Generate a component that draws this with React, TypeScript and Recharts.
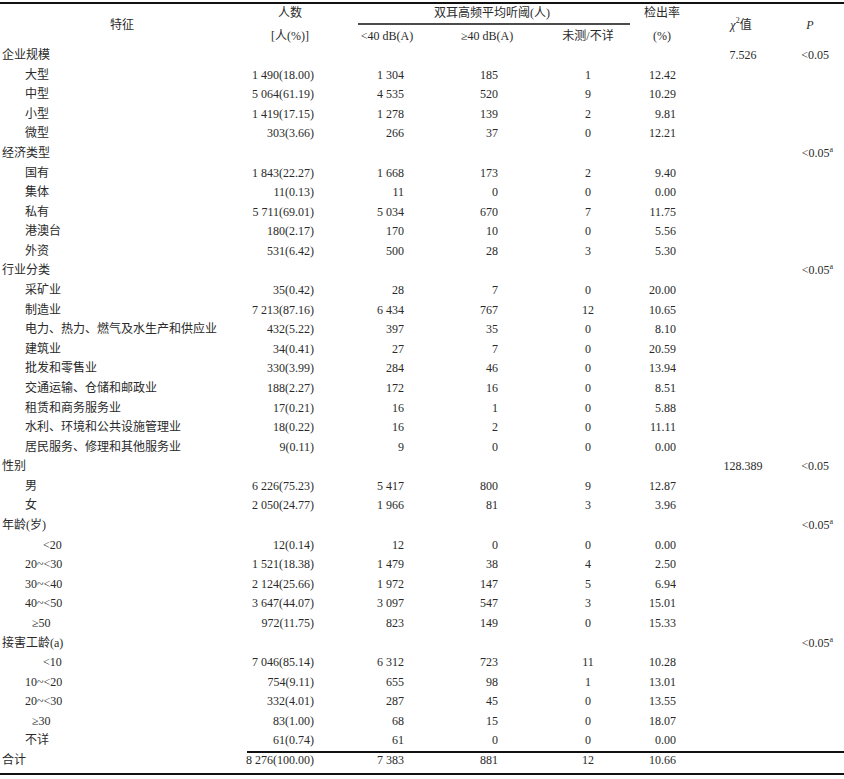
import React from 'react';
import { ComposedChart, Scatter, XAxis, YAxis, Customized } from 'recharts';

// row labels (特征)
const rowLabels = [
  '企业规模', '大型', '中型', '小型', '微型',
  '经济类型', '国有', '集体', '私有', '港澳台', '外资',
  '行业分类', '采矿业', '制造业', '电力、热力、燃气及水生产和供应业', '建筑业', '批发和零售业',
  '交通运输、仓储和邮政业', '租赁和商务服务业', '水利、环境和公共设施管理业', '居民服务、修理和其他服务业',
  '性别', '男', '女',
  '年龄(岁)', '<20', '20~<30', '30~<40', '40~<50', '≥50',
  '接害工龄(a)', '<10', '10~<20', '20~<30', '≥30', '不详',
  '合计'
];

const groupRows = ['企业规模', '经济类型', '行业分类', '性别', '年龄(岁)', '接害工龄(a)'];

// 人数 [人(%)]
const totals = [
  '', '1 490(18.00)', '5 064(61.19)', '1 419(17.15)', '303(3.66)',
  '', '1 843(22.27)', '11(0.13)', '5 711(69.01)', '180(2.17)', '531(6.42)',
  '', '35(0.42)', '7 213(87.16)', '432(5.22)', '34(0.41)', '330(3.99)', '188(2.27)', '17(0.21)', '18(0.22)', '9(0.11)',
  '', '6 226(75.23)', '2 050(24.77)',
  '', '12(0.14)', '1 521(18.38)', '2 124(25.66)', '3 647(44.07)', '972(11.75)',
  '', '7 046(85.14)', '754(9.11)', '332(4.01)', '83(1.00)', '61(0.74)',
  '8 276(100.00)'
];

// <40 dB(A)
const below40 = [
  '', '1 304', '4 535', '1 278', '266',
  '', '1 668', '11', '5 034', '170', '500',
  '', '28', '6 434', '397', '27', '284', '172', '16', '16', '9',
  '', '5 417', '1 966',
  '', '12', '1 479', '1 972', '3 097', '823',
  '', '6 312', '655', '287', '68', '61',
  '7 383'
];

// ≥40 dB(A)
const above40 = [
  '', '185', '520', '139', '37',
  '', '173', '0', '670', '10', '28',
  '', '7', '767', '35', '7', '46', '16', '1', '2', '0',
  '', '800', '81',
  '', '0', '38', '147', '547', '149',
  '', '723', '98', '45', '15', '0',
  '881'
];

// 未测/不详
const untested = [
  '', '1', '9', '2', '0',
  '', '2', '0', '7', '0', '3',
  '', '0', '12', '0', '0', '0', '0', '0', '0', '0',
  '', '9', '3',
  '', '0', '4', '5', '3', '0',
  '', '11', '1', '0', '0', '0',
  '12'
];

// 检出率(%)
const rates = [
  '', '12.42', '10.29', '9.81', '12.21',
  '', '9.40', '0.00', '11.75', '5.56', '5.30',
  '', '20.00', '10.65', '8.10', '20.59', '13.94', '8.51', '5.88', '11.11', '0.00',
  '', '12.87', '3.96',
  '', '0.00', '2.50', '6.94', '15.01', '15.33',
  '', '10.28', '13.01', '13.55', '18.07', '0.00',
  '10.66'
];

// per group: χ² value, P value, fisher exact flag
const groupChi = ['7.526', '', '', '128.389', '', ''];
const groupP = ['<0.05', '<0.05', '<0.05', '<0.05', '<0.05', '<0.05'];
const groupFisher = [false, true, true, false, true, true];

const W = 844;
const H = 779;
const FONT = "'Liberation Serif', 'Noto Sans CJK SC', serif";
const INK = '#2a2a2a';

// column anchors in pixels
const COL = { label: 0, total: 314, below: 404, above: 498, untested: 588, rate: 676, chi: 743, p: 829 };

const toPoints = (x: number, texts: string[]) =>
  texts.map((text, i) => ({ x, y: i, text }));

const chiTexts = rowLabels.map((l) => {
  const g = groupRows.indexOf(l);
  return g >= 0 ? groupChi[g] : '';
});
const pTexts = rowLabels.map((l) => {
  const g = groupRows.indexOf(l);
  return g >= 0 ? groupP[g] : '';
});

const labelIndent = (label: string) => {
  if (groupRows.includes(label) || label === '合计') return 2;
  if (label.startsWith('<')) return 43;
  if (label.startsWith('≥')) return 32;
  return 25;
};

const textShape = (anchor: 'start' | 'middle' | 'end') => (props: any) => {
  const { cx, cy, payload } = props;
  if (!payload || !payload.text) return <g />;
  return (
    <text x={cx} y={cy} textAnchor={anchor} dominantBaseline="central" fontFamily={FONT} fontSize={12} fill={INK}>
      {payload.text}
    </text>
  );
};

const labelShape = (props: any) => {
  const { cx, cy, payload } = props;
  return (
    <text x={cx + labelIndent(payload.text)} y={cy} dominantBaseline="central" fontFamily={FONT} fontSize={12} fill={INK}>
      {payload.text}
    </text>
  );
};

const pShape = (props: any) => {
  const { cx, cy, payload } = props;
  if (!payload.text) return <g />;
  const g = groupRows.indexOf(rowLabels[payload.y]);
  const sup = groupFisher[g];
  return (
    <text x={sup ? cx + 4 : cx} y={cy} textAnchor="end" dominantBaseline="central" fontFamily={FONT} fontSize={12} fill={INK}>
      {payload.text}
      {sup ? <tspan fontSize={8} dy={-4}>a</tspan> : null}
    </text>
  );
};

const Header = () => {
  const t = { fontFamily: FONT, fontSize: 12, fill: INK, textAnchor: 'middle' as const, dominantBaseline: 'central' as const };
  return (
    <g>
      <line x1={0} x2={W} y1={3} y2={3} stroke="#111" strokeWidth={2} />
      <text x={122} y={25} {...t}>特征</text>
      <text x={290} y={13} {...t}>人数</text>
      <text x={290} y={36} {...t}>[人(%)]</text>
      <text x={492} y={13} {...t}>双耳高频平均听阈(人)</text>
      <line x1={358} x2={630} y1={24} y2={24} stroke="#111" strokeWidth={1.5} />
      <text x={387} y={36} {...t}>{'<40 dB(A)'}</text>
      <text x={487} y={36} {...t}>{'≥40 dB(A)'}</text>
      <text x={588} y={36} {...t}>未测/不详</text>
      <text x={662} y={13} {...t}>检出率</text>
      <text x={662} y={36} {...t}>(%)</text>
      <text x={741} y={25} {...t}>
        <tspan fontStyle="italic">χ</tspan>
        <tspan fontSize={8} dy={-5}>2</tspan>
        <tspan dy={5}>值</tspan>
      </text>
      <text x={810} y={25} {...t} fontStyle="italic">P</text>
      <line x1={247} x2={W} y1={752} y2={752} stroke="#111" strokeWidth={2} />
      <line x1={0} x2={W} y1={774} y2={774} stroke="#111" strokeWidth={2} />
    </g>
  );
};

export default function App() {
  return (
    <div style={{ position: 'absolute', left: 0, top: 0, background: '#fff' }}>
      <ComposedChart width={W} height={H} margin={{ top: 55, right: 0, bottom: 19, left: 0 }}>
        <XAxis type="number" dataKey="x" domain={[0, W]} hide />
        <YAxis type="number" dataKey="y" domain={[0, rowLabels.length - 1]} reversed hide />
        <Scatter data={toPoints(COL.label, rowLabels)} shape={labelShape} isAnimationActive={false} />
        <Scatter data={toPoints(COL.total, totals)} shape={textShape('end')} isAnimationActive={false} />
        <Scatter data={toPoints(COL.below, below40)} shape={textShape('end')} isAnimationActive={false} />
        <Scatter data={toPoints(COL.above, above40)} shape={textShape('end')} isAnimationActive={false} />
        <Scatter data={toPoints(COL.untested, untested)} shape={textShape('middle')} isAnimationActive={false} />
        <Scatter data={toPoints(COL.rate, rates)} shape={textShape('end')} isAnimationActive={false} />
        <Scatter data={toPoints(COL.chi, chiTexts)} shape={textShape('middle')} isAnimationActive={false} />
        <Scatter data={toPoints(COL.p, pTexts)} shape={pShape} isAnimationActive={false} />
        <Customized component={Header} />
      </ComposedChart>
    </div>
  );
}
